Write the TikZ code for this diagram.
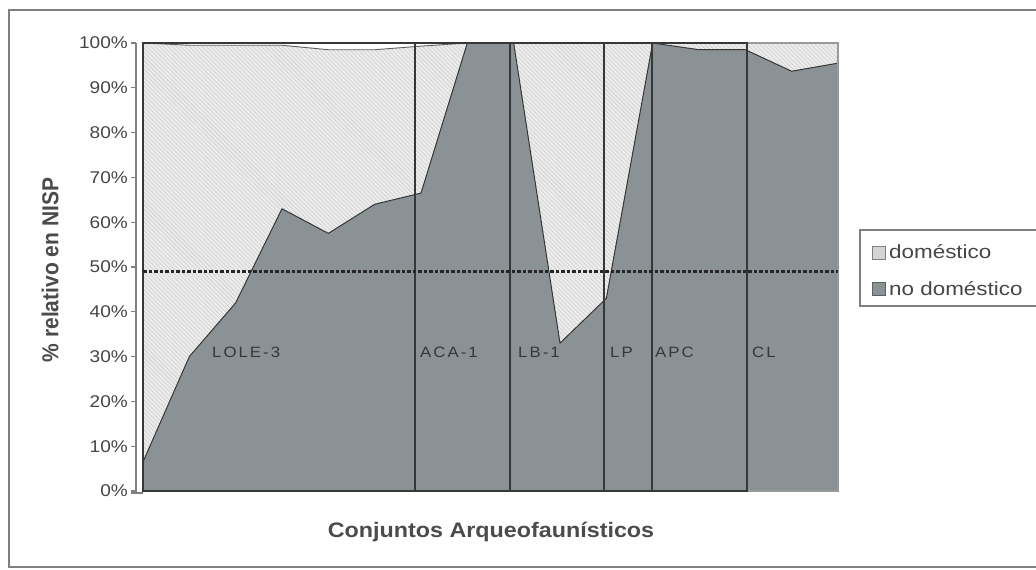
\documentclass[tikz,border=0pt]{standalone}
\usepackage{fontspec}
\usepackage{graphicx}
\setmainfont{Liberation Sans}
\newfontfamily\lblfont[LetterSpace=12]{Liberation Sans}
\usetikzlibrary{patterns.meta}
\definecolor{ndgray}{RGB}{139,146,150}
\definecolor{domlight}{RGB}{236,236,236}
\definecolor{hatchc}{RGB}{205,205,205}
\definecolor{framec}{RGB}{128,128,128}
\definecolor{txtc}{RGB}{70,70,70}
\definecolor{darkln}{RGB}{55,55,55}
\newcommand\hx[1]{\scalebox{1.12}[1]{#1}}
\begin{document}
\begin{tikzpicture}[x=1pt,y=-1pt,
  ndfill/.style={fill=ndgray},
  domfill/.style={fill=domlight},
  hatchfill/.style={pattern={Lines[angle=-45,distance=3pt,line width=0.55pt]},pattern color=hatchc},
  ndline/.style={draw=darkln,line width=1pt,line join=round},
  domline/.style={draw=darkln!80,line width=0.9pt,line join=round},
  boxline/.style={draw=darkln,line width=1.2pt},
  clbox/.style={draw=framec!80,line width=1.2pt},
  refline/.style={draw=black!85,line width=3pt,dash pattern=on 3.5pt off 2pt},
  axisline/.style={draw=framec,line width=1.3pt},
  ticklbl/.style={anchor=east,inner sep=0pt,text=txtc,font=\fontsize{17}{17}\selectfont},
  lbl/.style={anchor=base west,inner sep=0pt,text=darkln,font=\fontsize{15}{15}\lblfont},
  legtxt/.style={anchor=base west,inner sep=0pt,text=txtc,font=\fontsize{19}{19}\selectfont},
  ttl/.style={inner sep=0pt,text=darkln!90,font=\fontsize{21}{21}\selectfont\bfseries},
  frame/.style={draw=framec,line width=1.5pt}
]
\useasboundingbox (0,0) rectangle (1036,570);
\clip (0,0) rectangle (1036,570);
\fill[white] (0,0) rectangle (1036,570);
\draw[frame] (1060,10) -- (9,10) -- (9,567) -- (1060,567);

% data points
\foreach \k/\nd/\dm in {0/6.5/100, 1/30/99.5, 2/42/99.5, 3/63/99.5, 4/57.5/98.5, 5/64/98.5, 6/66.5/99.3, 7/100/100, 8/100/100, 9/33/100, 10/43/100, 11/100/100, 12/98.5/100, 13/98.5/100, 14/93.7/100, 15/95.5/100}{
  \coordinate (n\k) at ({143+46.333*\k},{491-4.48*\nd});
  \coordinate (d\k) at ({143+46.333*\k},{491-4.48*\dm});
}

% domestic (hatched) background
\fill[domfill] (143,43) rectangle (838,491);
\fill[hatchfill] (143,43) rectangle (838,491);
% white band above domestic
\fill[white] (143,43) -- (d0) -- (d1) -- (d2) -- (d3) -- (d4) -- (d5) -- (d6) -- (d7) -- (838,43) -- cycle;
% no domestico area
\fill[ndfill] (143,491) -- (n0) -- (n1) -- (n2) -- (n3) -- (n4) -- (n5) -- (n6) -- (n7) -- (n8) -- (n9) -- (n10) -- (n11) -- (n12) -- (n13) -- (n14) -- (n15) -- (838,491) -- cycle;
\draw[ndline] (n0) -- (n1) -- (n2) -- (n3) -- (n4) -- (n5) -- (n6) -- (n7) -- (n8) -- (n9) -- (n10) -- (n11) -- (n12) -- (n13) -- (n14) -- (n15);
\draw[domline] (d0) -- (d1) -- (d2) -- (d3) -- (d4) -- (d5) -- (d6) -- (d7);

% site boxes
\draw[clbox] (747,43) rectangle (838,491);
\draw[boxline] (143,43) rectangle (415,491);
\draw[boxline] (415,43) rectangle (510,491);
\draw[boxline] (510,43) rectangle (604,491);
\draw[boxline] (604,43) rectangle (652,491);
\draw[boxline] (652,43) rectangle (747,491);

% axis
\draw[axisline] (136,43) -- (136,493);
\draw[axisline] (131,493) -- (143,493);
\foreach \p in {0,10,...,100}{
  \draw[axisline] (131,{491-4.48*\p}) -- (136,{491-4.48*\p});
  \node[ticklbl] (t\p) at (128,{491-4.48*\p}) {\hx{\p\%}};
}

% 50% reference line
\coordinate (r0) at (143,271);
\coordinate (r1) at (838,271);
\draw[refline] (r0) -- (r1);

% site labels
\node[lbl] (lole) at (212,357) {\hx{LOLE-3}};
\node[lbl] (aca) at (420,357) {\hx{ACA-1}};
\node[lbl] (lb) at (518,357) {\hx{LB-1}};
\node[lbl] (lp) at (610,357) {\hx{LP}};
\node[lbl] (apc) at (655,357) {\hx{APC}};
\node[lbl] (cl) at (752,357) {\hx{CL}};

% titles
\node[ttl,rotate=90] (ytitle) at (50,270) {\scalebox{1}[1.1]{\% relativo en NISP}};
\node[ttl,anchor=base] (xtitle) at (491,537) {\scalebox{1.11}[1]{Conjuntos Arqueofaunísticos}};

% legend
\draw[draw=framec,line width=1.3pt,fill=white] (860,230) rectangle (1060,306);
\draw[draw=framec,line width=1pt,fill=domlight!90!black] (872,246) rectangle (885,259);
\draw[draw=darkln!80,line width=1pt,fill=ndgray] (872,282) rectangle (885,295);
\node[legtxt] (l1) at (889,258) {\scalebox{1.18}[1]{doméstico}};
\node[legtxt] (l2) at (889,295) {\scalebox{1.18}[1]{no doméstico}};
\end{tikzpicture}
\end{document}
